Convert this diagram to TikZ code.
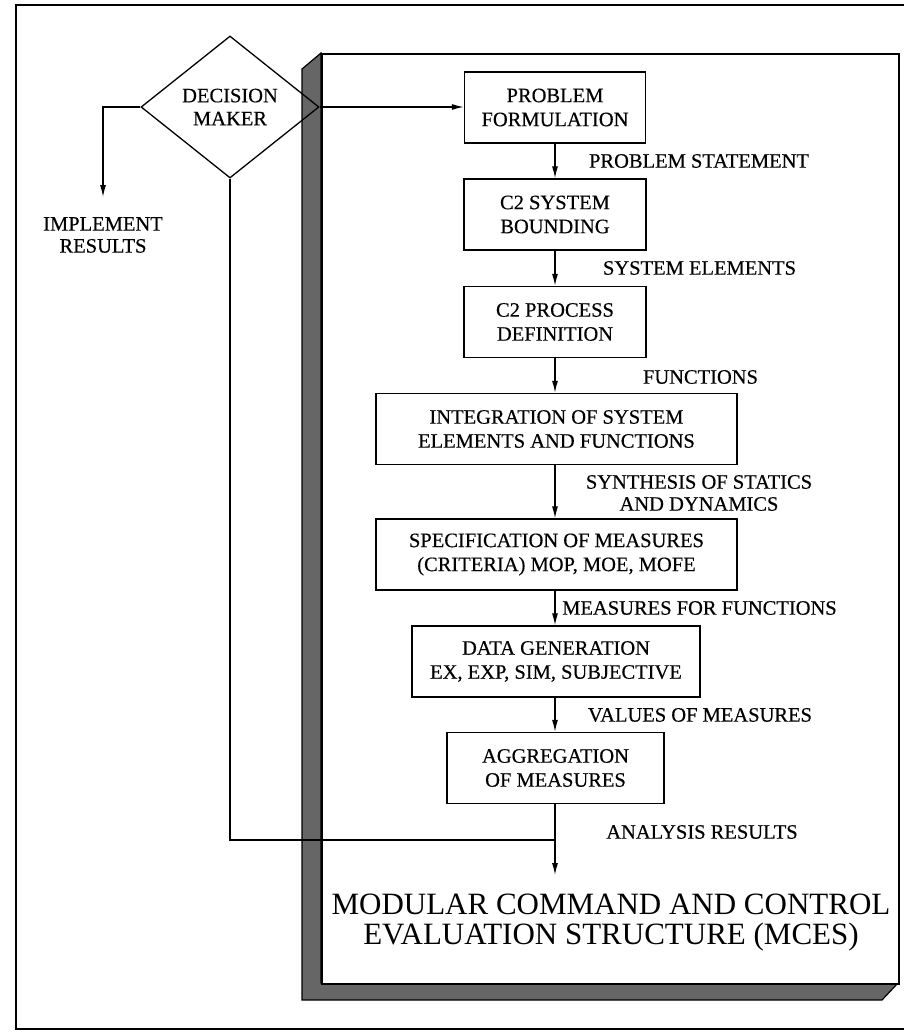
\documentclass[tikz,border=0pt]{standalone}
\usepackage{fontspec}
\setmainfont{Liberation Serif}[FakeBold=0.35]
\newfontfamily\titlefont{Liberation Serif}
\usetikzlibrary{arrows.meta,shapes.geometric}
\begin{document}
\begin{tikzpicture}[x=1pt,y=-1pt,
  box/.style={draw, line width=1.4pt, minimum height=71pt, inner sep=0pt, align=center, font=\fontsize{20.5}{24}\selectfont},
  lbl/.style={align=center, inner sep=0pt, font=\fontsize{20.5}{22}\selectfont},
  conn/.style={line width=1.2pt},
  arr/.style={conn, -{Latex[length=12pt,width=6pt]}},
  shade/.style={fill=black!60, draw=black, line width=1.2pt, line join=miter},
]
\useasboundingbox (0,0) rectangle (904,1033);
\fill[white] (0,0) rectangle (904,1033);
% outer frame
\draw[line width=2pt] (16,5) rectangle (930,1029);
% shadow of the MCES block
\path[shade] (321,53) -- (302,69) -- (302,1000) -- (882,1000) -- (898,983) -- (321,983) -- cycle;
\node[draw, fill=white, line width=1.8pt, minimum width=577pt, minimum height=930pt, inner sep=0pt, anchor=north west] (mces) at (321,53) {};
% decision maker
\node[diamond, draw, line width=1.3pt, aspect=1.27, minimum width=178pt, minimum height=142pt, inner sep=0pt, align=center, font=\fontsize{20.5}{23}\selectfont] (dm) at (230,107) {DECISION\\MAKER};
% boxes
\node[box, minimum width=181pt] (pf) at (555,107.5) {PROBLEM\\FORMULATION};
\node[box, minimum width=182pt] (sb) at (555,214.5) {C2 SYSTEM\\BOUNDING};
\node[box, minimum width=182pt] (pd) at (555,322) {C2 PROCESS\\DEFINITION};
\node[box, minimum width=361pt] (ig) at (556.5,429) {INTEGRATION OF SYSTEM\\ELEMENTS AND FUNCTIONS};
\node[box, minimum width=361pt] (sm) at (556.5,554.5) {SPECIFICATION OF MEASURES\\(CRITERIA) MOP, MOE, MOFE};
\node[box, minimum width=288pt] (dg) at (556,661.5) {DATA GENERATION\\EX, EXP, SIM, SUBJECTIVE};
\node[box, minimum width=217pt] (ag) at (555.5,768) {AGGREGATION\\OF MEASURES};
% labels
\node[lbl] (l1) at (699,161) {PROBLEM STATEMENT};
\node[lbl] (l2) at (699.5,268) {SYSTEM ELEMENTS};
\node[lbl] (l3) at (700.5,377) {FUNCTIONS};
\node[lbl] (l4) at (699,493) {SYNTHESIS OF STATICS\\AND DYNAMICS};
\node[lbl] (l5) at (699.5,608) {MEASURES FOR FUNCTIONS};
\node[lbl] (l6) at (700,715) {VALUES OF MEASURES};
\node[lbl] (l7) at (702,832) {ANALYSIS RESULTS};
\node[lbl] (impl) at (103,235) {IMPLEMENT\\RESULTS};
\node[align=center, inner sep=0pt, font=\titlefont\fontsize{31}{30}\selectfont] (title) at (611,923) {MODULAR COMMAND AND CONTROL\\EVALUATION STRUCTURE (MCES)};
% connectors
\coordinate (ir) at (103,197);
\coordinate (fb) at (555,840);
\coordinate (out) at (555,875);
\draw[arr] (dm.east) -- (pf.west |- dm.east);
\draw[arr] (dm.west) -| (ir);
\draw[arr] (pf.south) -- (pf.south |- sb.north);
\draw[arr] (sb.south) -- (sb.south |- pd.north);
\draw[arr] (pd.south) -- (pd.south |- ig.north);
\draw[arr] (pd.south |- ig.south) -- (pd.south |- sm.north);
\draw[arr] (pd.south |- sm.south) -- (pd.south |- dg.north);
\draw[arr] (pd.south |- dg.south) -- (pd.south |- ag.north);
\draw[arr] (pd.south |- ag.south) -- (out);
\draw[conn] (dm.south) |- (fb);
\end{tikzpicture}
\end{document}
